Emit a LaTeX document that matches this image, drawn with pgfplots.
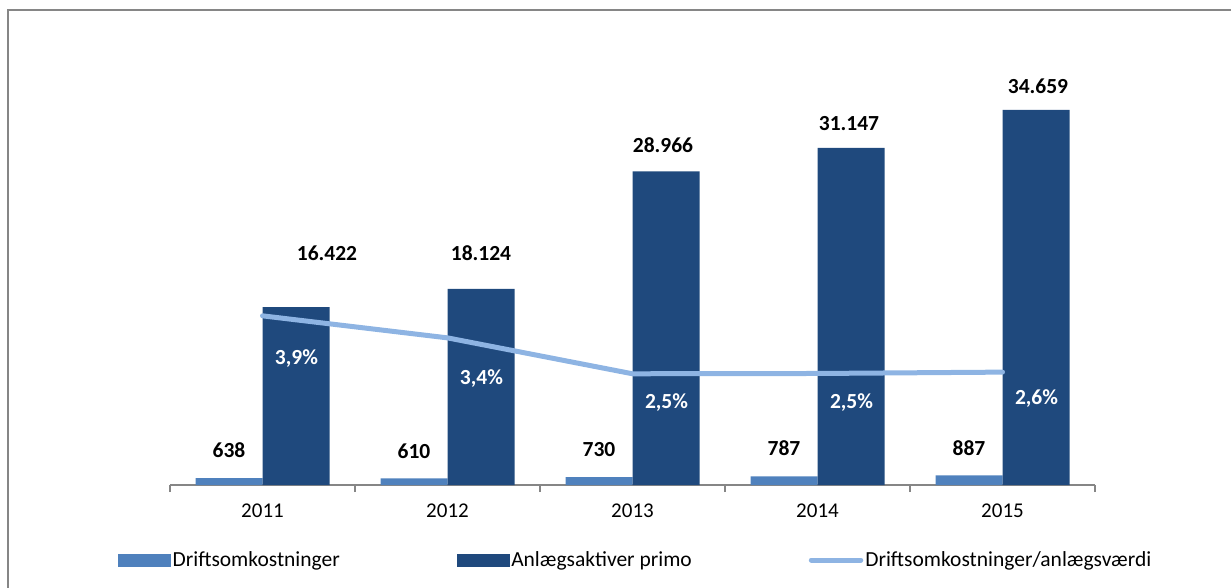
\documentclass[border=0pt]{standalone}
\usepackage{fontspec}
\setmainfont{Carlito}
\usepackage{pgfplots}
\usepackage{pgfplotstable}
\pgfplotsset{compat=1.18}
\definecolor{cdrift}{HTML}{4F81BD}
\definecolor{canl}{HTML}{1F497D}
\definecolor{cline}{HTML}{8EB4E3}
\definecolor{cframe}{HTML}{868686}

\pgfplotstableread{
x drift dlab dyd anl alab dxa dya ratio rlab dyr
1 638 638 28 16422 16.422 31 54 3.885 3,9 -43
2 610 610 27 18124 18.124 0 36 3.366 3,4 -41
3 730 730 28 28966 28.966 -3 26 2.520 2,5 -29
4 787 787 28 31147 31.147 -2 24 2.527 2,5 -29
5 887 887 27 34659 34.659 2 24 2.559 2,6 -26
}\data

\begin{document}
\begin{tikzpicture}[x=1pt,y=1pt]
\useasboundingbox (0,0) rectangle (1231,587);
\draw[cframe, line width=2pt] (7.8,-5) -- (7.8,576.5) -- (1240,576.5);

\pgfplotsset{
  common/.style={
    at={(170pt,102pt)}, anchor=south west,
    scale only axis, width=925pt, height=433pt,
    xmin=0.5, xmax=5.5,
    clip=false,
  }
}

\begin{axis}[common,
  ymin=0, ymax=40000,
  axis y line=none,
  axis x line*=bottom,
  axis line style={cframe, line width=1.2pt},
  xtick={1,2,3,4,5},
  xticklabels={2011,2012,2013,2014,2015},
  major tick length=0pt,
  minor xtick={0.5,1.5,2.5,3.5,4.5,5.5},
  minor tick length=7pt,
  tick align=outside,
  minor tick style={cframe, line width=1.2pt},
  xticklabel style={font=\fontsize{21}{24}\selectfont, text=black, yshift=-15pt},
  ybar=0pt, bar width=67pt,
  nodes near coords,
  point meta=explicit symbolic,
]
\addplot[fill=cdrift, draw=none,
  visualization depends on={\thisrow{dyd} \as \dy},
  nodes near coords style={anchor=center, yshift=\dy pt, font=\fontsize{21.5}{24}\selectfont\bfseries, text=black},
] table[x=x, y=drift, meta=dlab] {\data};
\addplot[fill=canl, draw=none,
  visualization depends on={\thisrow{dya} \as \dy},
  visualization depends on={\thisrow{dxa} \as \dx},
  nodes near coords style={anchor=center, yshift=\dy pt, xshift=\dx pt, font=\fontsize{21.5}{24}\selectfont\bfseries, text=black},
] table[x=x, y=anl, meta=alab] {\data};
\end{axis}

\begin{axis}[common,
  ymin=-0.1, ymax=10.1,
  axis lines=none,
  legend columns=3,
  legend style={draw=none, fill=none, at={(rel axis cs:-0.0562,-0.1732)}, anchor=west,
    inner sep=0pt, nodes={inner sep=2pt, anchor=west},
    font=\fontsize{21.5}{24}\selectfont,
    /tikz/every even column/.append style={column sep=115pt}},
]
\addlegendimage{legend image code/.code={\fill[cdrift] (0pt,-6pt) rectangle (52pt,6pt);}}
\addlegendentry{Driftsomkostninger}
\addlegendimage{legend image code/.code={\fill[canl] (0pt,-6pt) rectangle (52pt,6pt);}}
\addlegendentry{Anlægsaktiver primo}
\addplot[cline, line width=5pt, line cap=round, line join=round, mark=none,
  nodes near coords={\pgfplotspointmeta\%},
  point meta=explicit symbolic,
  visualization depends on={\thisrow{dyr} \as \dy},
  nodes near coords style={anchor=center, xshift=34pt, yshift=\dy pt, font=\fontsize{21.5}{24}\selectfont\bfseries, text=white},
  legend image code/.code={\draw[cline, line width=5pt, line cap=round] (2.5pt,0) -- (52pt,0);},
] table[x=x, y=ratio, meta=rlab] {\data};
\addlegendentry{Driftsomkostninger/anlægsværdi}
\end{axis}
\end{tikzpicture}
\end{document}
